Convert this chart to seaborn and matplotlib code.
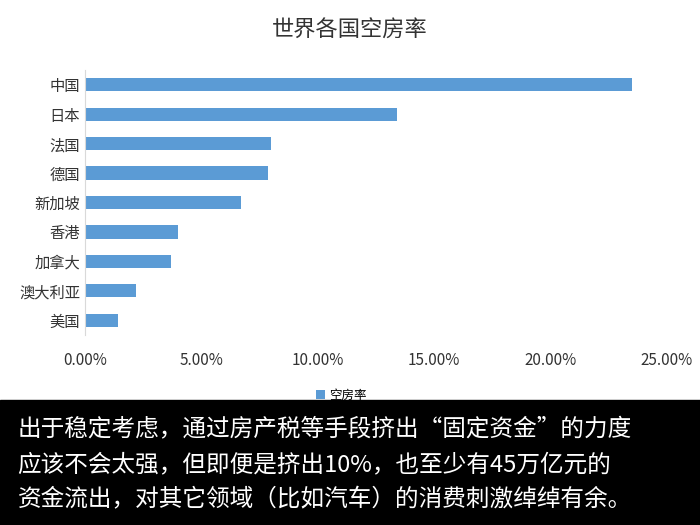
import matplotlib
matplotlib.use("Agg")
import matplotlib.pyplot as plt
import seaborn as sns
import pandas as pd
from matplotlib.ticker import FuncFormatter

countries = ["中国", "日本", "法国", "德国", "新加坡", "香港", "加拿大", "澳大利亚", "美国"]
rates = [23.5, 13.4, 8.0, 7.85, 6.7, 4.0, 3.7, 2.2, 1.4]
xticks = [0, 5, 10, 15, 20, 25]
caption = ["出于稳定考虑，通过房产税等手段挤出“固定资金”的力度",
           "应该不会太强，但即便是挤出10%，也至少有45万亿元的",
           "资金流出，对其它领域（比如汽车）的消费刺激绰绰有余。"]

plt.rcParams["font.family"] = "Noto Sans CJK SC"
df = pd.DataFrame({"country": countries, "rate": rates})
fig = plt.figure(figsize=(7, 5.25), dpi=100)
ax = fig.add_axes([85/700, 1-335/525, (667-85)/700, (335-70)/525])
sns.barplot(data=df, y="country", x="rate", color="#5b9bd5", width=0.45,
            orient="h", ax=ax, saturation=1, label="空房率")
ax.set_xlim(0, 25)
ax.set_xticks(xticks)
ax.xaxis.set_major_formatter(FuncFormatter(lambda v, p: f"{v:.2f}%"))
ax.set_xlabel(""); ax.set_ylabel("")
for s in ["top", "right", "bottom"]:
    ax.spines[s].set_visible(False)
ax.spines["left"].set_color("#d9d9d9")
ax.tick_params(length=0, labelsize=11, colors="#333333")
ax.tick_params(axis="x", pad=12)
fig.text(0.5, 1-30/525, "世界各国空房率", ha="center", va="center", fontsize=16, color="#333333")
ax.legend(loc="upper center", bbox_to_anchor=(0.44, -0.16), frameon=False, fontsize=9,
          handlelength=0.7, handleheight=0.7, handletextpad=0.3)
fig.patches.append(plt.Rectangle((0, 0), 1, 125/525, transform=fig.transFigure, color="black", zorder=0))
for i, line in enumerate(caption):
    fig.text(0.025, 1-(430+i*35)/525, line, ha="left", va="center", fontsize=17, color="white")
fig.savefig("out.png", dpi=100)
